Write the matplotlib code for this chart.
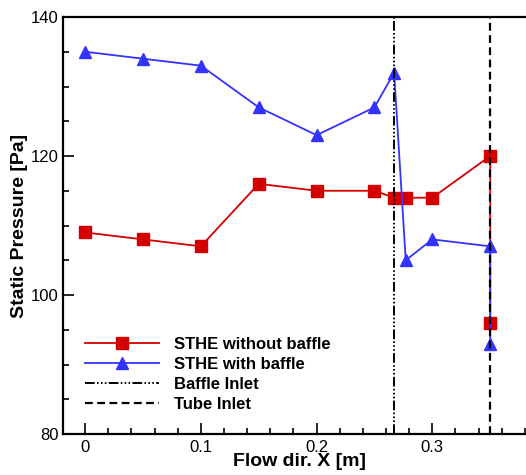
import matplotlib.pyplot as plt
from matplotlib.ticker import MultipleLocator

plt.rcParams['font.family'] = ['Liberation Sans', 'DejaVu Sans']

# data
x_pts = [0, 0.05, 0.1, 0.15, 0.2, 0.25, 0.267, 0.277, 0.3, 0.35, 0.35]
p_no_baffle = [109, 108, 107, 116, 115, 115, 114, 114, 114, 120, 96]
p_baffle = [135, 134, 133, 127, 123, 127, 132, 105, 108, 107, 93]
baffle_inlet = 0.267
tube_inlet = 0.35

fig = plt.figure(figsize=(5.26, 4.75), dpi=100)
ax = fig.add_axes([0.12, 0.0863, 0.90, 0.8779])

ax.plot(x_pts, p_no_baffle, color='#d40000', lw=1.3, marker='s', ms=8,
        label='STHE without baffle')
ax.plot(x_pts, p_baffle, color='#3333ff', lw=1.3, marker='^', ms=9,
        label='STHE with baffle')
ax.axvline(baffle_inlet, color='k', lw=1.4, ls=(0, (5, 1.2, 0.8, 1.2, 0.8, 1.2, 0.8, 1.2)),
           label='Baffle Inlet')
ax.axvline(tube_inlet, color='k', lw=1.6, ls=(0, (3.5, 2)), label='Tube Inlet')

ax.set_xlim(-0.019, 0.39)
ax.set_ylim(80, 140)
ax.xaxis.set_minor_locator(MultipleLocator(0.02))
ax.yaxis.set_major_locator(MultipleLocator(20))
ax.yaxis.set_minor_locator(MultipleLocator(5))
ax.set_xticks([0, 0.1, 0.2, 0.3])
ax.set_xticklabels(['0', '0.1', '0.2', '0.3'])
ax.tick_params(which='both', direction='in', labelsize=12, width=1.2)
ax.tick_params(which='major', length=8)
ax.tick_params(which='minor', length=4)
ax.tick_params(axis='x', pad=4)
for s in ax.spines.values():
    s.set_linewidth(1.6)

ax.set_xlabel('Flow dir. X [m]', fontsize=14, fontweight='bold', labelpad=-1)
ax.set_ylabel('Static Pressure [Pa]', fontsize=14, fontweight='bold', labelpad=2)

ax.legend(loc='lower left', bbox_to_anchor=(0.015, 0.018), frameon=False,
          prop={'weight': 'bold', 'size': 12}, handlelength=4.4,
          handletextpad=0.9, labelspacing=0.3)

fig.savefig('out.png', dpi=100)
